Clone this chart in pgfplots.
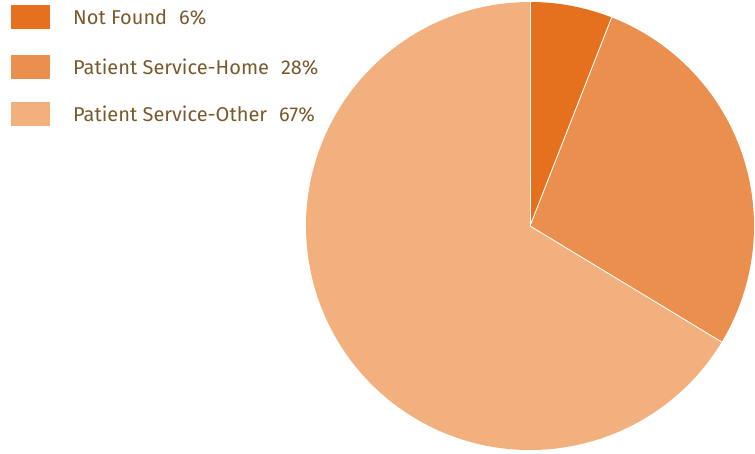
\documentclass[border=0pt]{standalone}
\usepackage{pgfplots}
\pgfplotsset{compat=1.18}
\usepackage{fontspec}
\setmainfont{Fira Sans}
\definecolor{c1}{HTML}{E5711F}
\definecolor{c2}{HTML}{EA8F4E}
\definecolor{c3}{HTML}{F2B07E}
\definecolor{txt}{HTML}{7A5A2C}
\begin{document}
\begin{tikzpicture}
\begin{axis}[
  scale only axis, width=755pt, height=453pt,
  xmin=0, xmax=755, ymin=0, ymax=453,
  axis lines=none, clip=false,
]
\coordinate (SW) at (rel axis cs:0,0);
\coordinate (NE) at (rel axis cs:1,1);
% slice values (percent as displayed), drawn clockwise from 12 o'clock
\def\total{101}
\pgfmathsetmacro{\aA}{90}
\pgfmathsetmacro{\aB}{90-6/\total*360}
\pgfmathsetmacro{\aC}{90-(6+28)/\total*360}
\pgfmathsetmacro{\aD}{90-(6+28+67)/\total*360}
\fill[c3] (axis cs:530,227) -- ++(\aC:224pt) arc[start angle=\aC, end angle=\aD, radius=224pt] -- cycle;
\fill[c2] (axis cs:530,227) -- ++(\aB:224pt) arc[start angle=\aB, end angle=\aC, radius=224pt] -- cycle;
\fill[c1] (axis cs:530,227) -- ++(\aA:224pt) arc[start angle=\aA, end angle=\aB, radius=224pt] -- cycle;
\draw[white, line width=0.9pt] (axis cs:530,227) -- ++(\aA:224pt);
\draw[white, line width=0.9pt] (axis cs:530,227) -- ++(\aB:224pt);
\draw[white, line width=0.9pt] (axis cs:530,227) -- ++(\aC:224pt);
% legend
\fill[c1] (axis cs:11,424) rectangle (axis cs:50,448);
\node[anchor=west, text=txt, font=\fontsize{20}{24}\selectfont, inner sep=0pt] at (axis cs:73,436) {Not Found\hspace{0.6em}6\%};
\fill[c2] (axis cs:11,374) rectangle (axis cs:50,398);
\node[anchor=west, text=txt, font=\fontsize{20}{24}\selectfont, inner sep=0pt] at (axis cs:73,386) {Patient Service-Home\hspace{0.6em}28\%};
\fill[c3] (axis cs:11,327) rectangle (axis cs:50,351);
\node[anchor=west, text=txt, font=\fontsize{20}{24}\selectfont, inner sep=0pt] at (axis cs:73,339) {Patient Service-Other\hspace{0.6em}67\%};
\end{axis}
\pgfresetboundingbox
\path (SW) rectangle (NE);
\end{tikzpicture}
\end{document}
